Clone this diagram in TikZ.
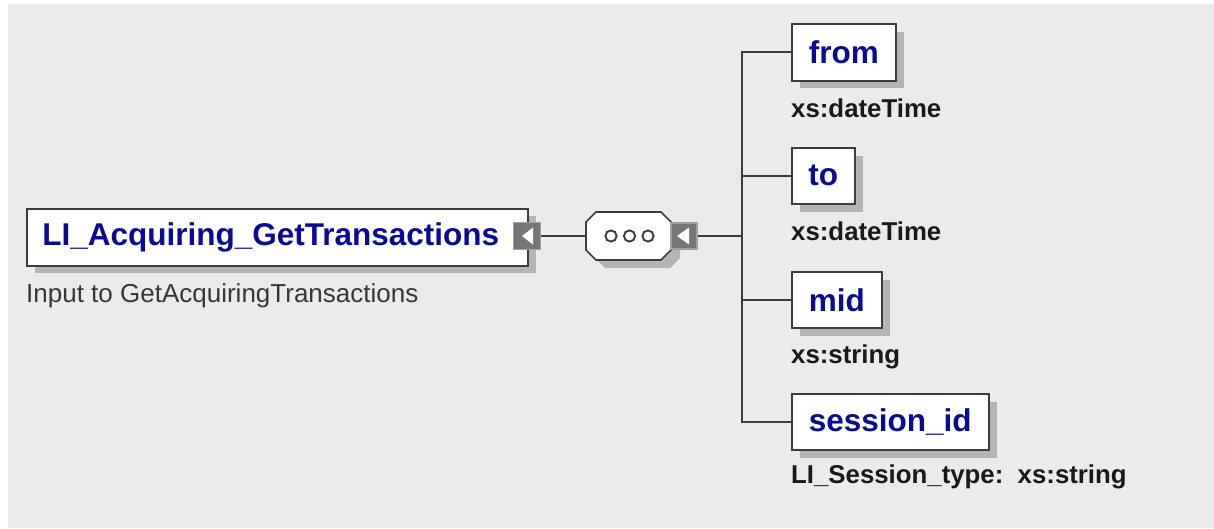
\documentclass[tikz,border=0pt]{standalone}
\usepackage{fontspec}
\setmainfont{Liberation Sans}
\definecolor{bgc}{RGB}{235,235,235}
\definecolor{shadowc}{RGB}{180,180,180}
\definecolor{edgec}{RGB}{60,60,60}
\definecolor{namec}{RGB}{10,10,150}
\definecolor{labc}{RGB}{25,25,25}
\definecolor{descc}{RGB}{55,55,55}
\definecolor{portc}{RGB}{118,118,118}
\definecolor{portb}{RGB}{160,160,160}
\tikzset{
  elbox/.style={draw=edgec, line width=1.6pt, fill=white, inner sep=0pt,
    minimum height=56pt, anchor=north west, text=namec,
    font=\fontsize{31.5}{34}\selectfont\bfseries},
  shad/.style={fill=shadowc, draw=none},
  conn/.style={draw=edgec, line width=1.7pt},
  typelab/.style={anchor=base west, inner sep=0pt, text=labc,
    font=\fontsize{25.8}{28}\selectfont\bfseries},
  desclab/.style={anchor=base west, inner sep=0pt, text=descc,
    font=\fontsize{26}{28}\selectfont},
  port/.style={fill=portc, draw=portb, line width=1.2pt, minimum size=27pt,
    inner sep=0pt},
}
\begin{document}
\begin{tikzpicture}[x=1pt,y=-1pt]
\useasboundingbox (0,0) rectangle (1214,528);
\fill[white] (0,0) rectangle (1214,528);
\fill[bgc] (8,4) rectangle (1214,528);

% shadows
\fill[shad] (35,216) rectangle ++(501,57);
\fill[shad] (800,32) rectangle ++(104,56);
\fill[shad] (800,156) rectangle ++(63,56);
\fill[shad] (800,280) rectangle ++(90,56);
\fill[shad] (800,402) rectangle ++(197,56);
\fill[shad] (595,230) -- (605,220) -- (670,220) -- (680,230) -- (680,258) -- (670,268) -- (605,268) -- (595,258) -- cycle;

% main element
\node[elbox, minimum width=501pt, minimum height=57pt] (main) at (26,208) {\hspace*{-13pt}LI\_Acquiring\_GetTransactions};
\node[desclab] (maindesc) at (26,302) {Input to GetAcquiringTransactions};
\node[port] (mainport) at (527,236) {};
\fill[white] (522,236) -- (533,227.5) -- (533,244.5) -- cycle;

% sequence compositor
\node[minimum width=85pt, minimum height=48pt, inner sep=0pt] (seq) at (628.5,236) {};
\filldraw[fill=white, draw=edgec, line width=1.6pt]
  (586,222) -- (596,212) -- (661,212) -- (671,222) -- (671,250) -- (661,260) -- (596,260) -- (586,250) -- cycle;
\foreach \cx in {611,629.5,648} \draw[edgec, line width=1.9pt] (\cx,236) circle (5.6);
\node[port, minimum size=26pt] (seqport) at (684,236) {};
\fill[white] (677,236) -- (689,227.5) -- (689,244.5) -- cycle;

% children
\node[elbox, minimum width=104pt, minimum height=57pt] (from) at (791,23) {from};
\node[typelab] (fromt) at (791,117) {xs:dateTime};
\node[elbox, minimum width=63pt] (to) at (791,147) {to};
\node[typelab] (tot) at (791,240) {xs:dateTime};
\node[elbox, minimum width=90pt] (mid) at (791,271) {mid};
\node[typelab] (midt) at (791,363) {xs:string};
\node[elbox, minimum width=197pt] (sess) at (791,393) {session\_id};
\node[typelab] (sesst) at (791,483) {LI\_Session\_type:\ \ xs:string};

% connectors
\coordinate (j) at (742,236);
\draw[conn] (mainport.east) -- (seq.west);
\draw[conn] (seqport.east) -- (j);
\draw[conn] (from.west) -| (j);
\draw[conn] (to.west) -| (j);
\draw[conn] (mid.west) -| (j);
\draw[conn] (sess.west) -| (j);
\end{tikzpicture}
\end{document}
